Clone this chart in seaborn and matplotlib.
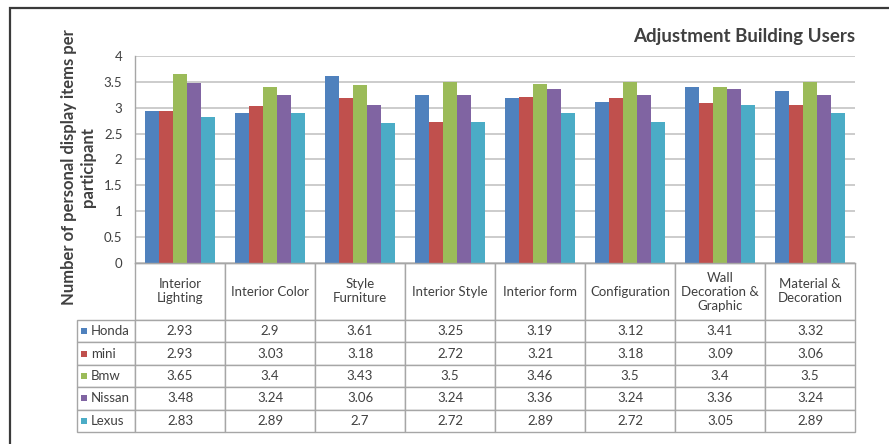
import numpy as np
import pandas as pd
import matplotlib
matplotlib.use("Agg")
import matplotlib.pyplot as plt
from matplotlib.patches import Rectangle
import seaborn as sns

# ---------------------------------------------------------------------------
# Data (read from the reference table)
# ---------------------------------------------------------------------------
CATEGORIES = [
    "Interior\nLighting", "Interior Color", "Style\nFurniture", "Interior Style",
    "Interior form", "Configuration", "Wall\nDecoration &\nGraphic", "Material &\nDecoration",
]
BRANDS = ["Honda", "mini", "Bmw", "Nissan", "Lexus"]
HONDA  = [2.93, 2.90, 3.61, 3.25, 3.19, 3.12, 3.41, 3.32]
MINI   = [2.93, 3.03, 3.18, 2.72, 3.21, 3.18, 3.09, 3.06]
BMW    = [3.65, 3.40, 3.43, 3.50, 3.46, 3.50, 3.40, 3.50]
NISSAN = [3.48, 3.24, 3.06, 3.24, 3.36, 3.24, 3.36, 3.24]
LEXUS  = [2.83, 2.89, 2.70, 2.72, 2.89, 2.72, 3.05, 2.89]
Y_TICKS = [0, 0.5, 1, 1.5, 2, 2.5, 3, 3.5, 4]

COLORS = ["#4F81BD", "#C0504D", "#9BBB59", "#8064A2", "#4BACC6"]
TEXT = "#404040"
GRID = "#BFBFBF"
TABLE_EDGE = "#A6A6A6"

# layout in pixels (figure 889 x 444)
W, H = 889, 444
AX_L, AX_R, AX_T, AX_B = 135, 855, 56, 263
LABEL_COL_W = 58
HEADER_H, ROW_H = 57, 22.4

series = [HONDA, MINI, BMW, NISSAN, LEXUS]
df = pd.DataFrame({
    "category": np.tile(CATEGORIES, len(BRANDS)),
    "brand": np.repeat(BRANDS, len(CATEGORIES)),
    "value": np.concatenate(series),
})

sns.set_style("white")
plt.rcParams["font.family"] = ["Lato", "DejaVu Sans"]

fig = plt.figure(figsize=(W / 100, H / 100), dpi=100)
ax = fig.add_axes([AX_L / W, 1 - AX_B / H, (AX_R - AX_L) / W, (AX_B - AX_T) / H])
ax_w, ax_h = AX_R - AX_L, AX_B - AX_T

sns.barplot(
    data=df, x="category", y="value", hue="brand", hue_order=BRANDS,
    palette=COLORS, saturation=1, width=0.78, gap=0, linewidth=0,
    legend=False, ax=ax,
)

ax.set_xlim(-0.5, len(CATEGORIES) - 0.5)
ax.set_ylim(0, 4)
ax.set_yticks(Y_TICKS)
ax.set_yticklabels([f"{t:g}" for t in Y_TICKS], color=TEXT, fontsize=9.5)
ax.tick_params(axis="y", length=0, pad=9)
ax.tick_params(axis="x", length=0, labelbottom=False)
ax.set_xlabel("")
ax.yaxis.grid(True, color=GRID, linewidth=1.1)
ax.set_axisbelow(True)
for side in ["top", "right"]:
    ax.spines[side].set_visible(False)
for side in ["left", "bottom"]:
    ax.spines[side].set_color(TABLE_EDGE)
    ax.spines[side].set_linewidth(1.0)

ax.set_ylabel("Number of personal display items per\nparticipant",
              fontsize=12, fontweight="bold", color=TEXT, linespacing=1.25)
ax.yaxis.set_label_coords(-0.054, (AX_B - 167) / ax_h)

ax.set_title("Adjustment Building Users", loc="right", fontsize=13.5,
             fontweight="bold", color=TEXT, pad=10)

# ---------------------------------------------------------------------------
# Data table under the bars (sizes in axes units)
# ---------------------------------------------------------------------------
cell_text = [[f"{v:g}" for v in s] for s in series]
header_h = HEADER_H / ax_h
row_h = ROW_H / ax_h
table_h = header_h + row_h * len(BRANDS)
tbl = ax.table(
    cellText=cell_text, rowLabels=BRANDS, colLabels=CATEGORIES,
    cellLoc="center", rowLoc="left", colLoc="center",
    bbox=[0, -table_h, 1.0, table_h],
)
tbl.auto_set_font_size(False)
for (r, c), cell in tbl.get_celld().items():
    cell.set_edgecolor(TABLE_EDGE)
    cell.set_linewidth(1.0)
    cell.set_height(header_h if r == 0 else row_h)
    cell.set_width(LABEL_COL_W / ax_w if c == -1 else 1.0 / len(CATEGORIES))
    cell.get_text().set_fontsize(9.5)
    cell.get_text().set_color(TEXT)
    if c == -1:
        cell.PAD = 0.24

# colored legend keys in the row-label column
for i, (brand, color) in enumerate(zip(BRANDS, COLORS)):
    y = -(header_h + row_h * (i + 0.5))
    ax.scatter([-(AX_L - 84) / ax_w], [y], marker="s", s=22, color=color,
               transform=ax.transAxes, clip_on=False, linewidths=0)

# outer chart frame (cut at the right and bottom in the reference)
fig.patches.append(Rectangle((10 / W, -0.1), 1.0, 1.1 - 8 / H, transform=fig.transFigure,
                             fill=False, edgecolor="#3A3A3A", linewidth=1.6))

fig.savefig("out.png", dpi=100, facecolor="white")
